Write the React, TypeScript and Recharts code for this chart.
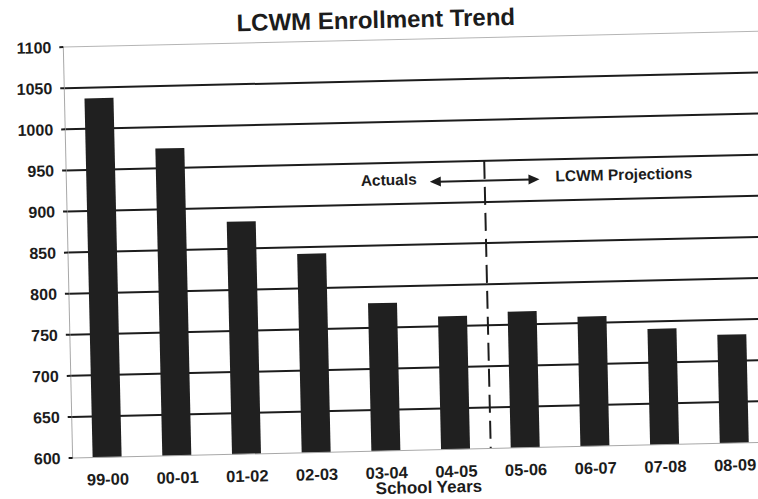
import React from 'react'
import { Bar, BarChart, CartesianGrid, ReferenceLine, XAxis, YAxis } from 'recharts'

const schoolYears = ['99-00', '00-01', '01-02', '02-03', '03-04', '04-05', '05-06', '06-07', '07-08', '08-09']
const enrollment = [1037, 974, 883, 842, 780, 762, 766, 758, 741, 732]
const yTicks = [600, 650, 700, 750, 800, 850, 900, 950, 1000, 1050, 1100]
const gridValues = [650, 700, 750, 800, 850, 900, 950, 1000, 1050]

// last actual year, the dashed divider sits at the end of its band
const lastActual = '04-05'
const firstProjected = '05-06'
const dividerTop = 950
const arrowValue = 926
const leftNote = 'Actuals'
const rightNote = 'LCWM Projections'
const chartTitle = 'LCWM Enrollment Trend'
const axisTitle = 'School Years'

const data = schoolYears.map((year, i) => ({ year, enrollment: enrollment[i] }))

const FONT = 'Arial, "Liberation Sans", Helvetica, sans-serif'
const INK = '#1c1c1c'

const DoubleArrow = (props: any) => {
    const { x1, y1, x2 } = props
    const left = x1 - 20
    const right = x2 + 20
    return (
        <g>
            <line x1={left + 8} y1={y1} x2={right - 8} y2={y1} stroke={INK} strokeWidth={2} />
            <polygon points={`${left},${y1} ${left + 11},${y1 - 5} ${left + 11},${y1 + 5}`} fill={INK} />
            <polygon points={`${right},${y1} ${right - 11},${y1 - 5} ${right - 11},${y1 + 5}`} fill={INK} />
            <text
                x={left - 13}
                y={y1 - 3}
                textAnchor={'end'}
                dominantBaseline={'central'}
                fontFamily={FONT}
                fontWeight={700}
                fontSize={15.5}
                fill={INK}
            >
                {leftNote}
            </text>
            <text
                x={right + 16}
                y={y1 - 3}
                textAnchor={'start'}
                dominantBaseline={'central'}
                fontFamily={FONT}
                fontWeight={700}
                fontSize={15.5}
                fill={INK}
            >
                {rightNote}
            </text>
        </g>
    )
}

const App: React.FC = () => (
    <div
        style={{
            position: 'absolute',
            left: 0,
            top: 0,
            width: 758,
            height: 499,
            overflow: 'hidden',
            background: '#ffffff'
        }}
    >
        <div
            style={{
                position: 'absolute',
                left: 0,
                top: 0,
                width: 780,
                height: 499,
                transform: 'rotate(-1.3deg)',
                transformOrigin: '379px 250px'
            }}
        >
            <div
                style={{
                    position: 'absolute',
                    left: 0,
                    top: 8,
                    width: 762,
                    textAlign: 'center',
                    fontFamily: FONT,
                    fontWeight: 700,
                    fontSize: 24,
                    lineHeight: '24px',
                    color: INK
                }}
            >
                {chartTitle}
            </div>
            <div style={{ position: 'absolute', left: 0, top: 0 }}>
                <BarChart
                    width={780}
                    height={499}
                    data={data}
                    margin={{
                        top: 40,
                        right: 15,
                        bottom: 18,
                        left: 0
                    }}
                >
                    <CartesianGrid
                        vertical={false}
                        horizontalValues={gridValues}
                        stroke={INK}
                        strokeWidth={2}
                    />
                    <ReferenceLine y={1100} stroke={'#b5b5b5'} strokeWidth={1} />
                    <XAxis
                        dataKey={'year'}
                        height={30}
                        tickSize={0}
                        tickMargin={16}
                        interval={0}
                        axisLine={{ stroke: '#a8a8a8', strokeWidth: 1 }}
                        tick={{ fill: INK, fontFamily: FONT, fontWeight: 700, fontSize: 16.5 }}
                        label={{
                            value: axisTitle,
                            position: 'bottom',
                            offset: 1,
                            dx: 7,
                            fill: INK,
                            fontFamily: FONT,
                            fontWeight: 700,
                            fontSize: 17
                        }}
                    />
                    <YAxis
                        width={68}
                        type={'number'}
                        domain={[600, 1100]}
                        ticks={yTicks}
                        interval={0}
                        tickSize={4}
                        tickMargin={8}
                        axisLine={{ stroke: '#a8a8a8', strokeWidth: 1 }}
                        tickLine={{ stroke: INK, strokeWidth: 2 }}
                        tick={{ fill: INK, fontFamily: FONT, fontWeight: 700, fontSize: 16 }}
                    />
                    <Bar
                        dataKey={'enrollment'}
                        fill={'#202020'}
                        barSize={29}
                        isAnimationActive={false}
                    />
                    <ReferenceLine
                        segment={[
                            { x: lastActual, y: dividerTop },
                            { x: lastActual, y: 600 }
                        ]}
                        position={'end'}
                        stroke={INK}
                        strokeWidth={2}
                        strokeDasharray={'18 8'}
                    />
                    <ReferenceLine
                        segment={[
                            { x: lastActual, y: arrowValue },
                            { x: firstProjected, y: arrowValue }
                        ]}
                        position={'middle'}
                        shape={DoubleArrow}
                    />
                </BarChart>
            </div>
        </div>
    </div>
)

export default App
